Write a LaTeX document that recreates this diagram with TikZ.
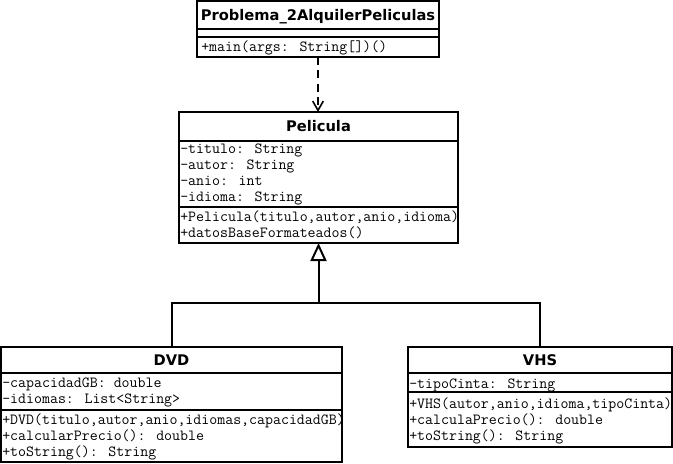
\documentclass[tikz,border=0pt]{standalone}
\usepackage{fontspec}
\newfontfamily\umltitlefont{DejaVu Sans}
\usetikzlibrary{arrows.meta,fit}

\tikzset{
	classbox/.style={draw, line width=1.5pt, inner sep=0pt, outer sep=0pt},
	divider/.style={line width=1.5pt},
	classtitle/.style={inner sep=0pt, text height=8pt, text depth=0pt,
		font=\umltitlefont\bfseries\fontsize{11}{13}\selectfont},
	member/.style={anchor=west, inner sep=0pt, text height=7pt, text depth=0pt,
		font=\ttfamily\fontsize{11.6}{13}\selectfont},
	depends/.style={line width=1.5pt, dash pattern=on 6pt off 4pt,
		-{Straight Barb[length=7pt,width=8pt,line width=1.2pt]}},
	inherits/.style={line width=1.5pt},
	inheritstip/.style={line width=1.5pt,
		-{Triangle[open,length=13.5pt,width=12pt,line width=1.5pt]}},
}

\begin{document}
\begin{tikzpicture}[x=0.75pt, y=-0.75pt]

	% ---- canvas

	\path[use as bounding box, fill=white] (0,0) rectangle (673,463);

	% ---- class boxes

	\node[classbox, fit={(197,1) (439,57)}] (main) {};
	\node[classbox, fit={(179,112) (458,243)}] (pelicula) {};
	\node[classbox, fit={(1,347) (342,462)}] (dvd) {};
	\node[classbox, fit={(408,347) (672,447)}] (vhs) {};

	% ---- compartments

	\draw[divider] (main.west |- 0,29) -- (main.east |- 0,29);
	\draw[divider] (main.west |- 0,37) -- (main.east |- 0,37);

	\draw[divider] (pelicula.west |- 0,141) -- (pelicula.east |- 0,141);
	\draw[divider] (pelicula.west |- 0,207) -- (pelicula.east |- 0,207);

	\draw[divider] (dvd.west |- 0,373) -- (dvd.east |- 0,373);
	\draw[divider] (dvd.west |- 0,410) -- (dvd.east |- 0,410);

	\draw[divider] (vhs.west |- 0,373) -- (vhs.east |- 0,373);
	\draw[divider] (vhs.west |- 0,392) -- (vhs.east |- 0,392);

	% ---- class names

	\node[classtitle] (main-name) at (318,15) {Problema\_2AlquilerPeliculas};
	\node[classtitle] (pelicula-name) at (318.5,126) {Pelicula};
	\node[classtitle] (dvd-name) at (171.5,360) {DVD};
	\node[classtitle] (vhs-name) at (540,360) {VHS};

	% ---- members

	\node[member] (main-m1) at (201,47) {+main(args: String[])()};

	\begin{scope}
		\clip (pelicula.north west) rectangle (pelicula.south east);
		\node[member] (pelicula-a1) at (180,149) {-titulo: String};
		\node[member] (pelicula-a2) at (180,165) {-autor: String};
		\node[member] (pelicula-a3) at (180,181) {-anio: int};
		\node[member] (pelicula-a4) at (180,197) {-idioma: String};
		\node[member] (pelicula-m1) at (180,217) {+Pelicula(titulo,autor,anio,idioma)};
		\node[member] (pelicula-m2) at (180,233) {+datosBaseFormateados()};
	\end{scope}

	\begin{scope}
		\clip (dvd.north west) rectangle (dvd.south east);
		\node[member] (dvd-a1) at (2,383) {-capacidadGB: double};
		\node[member] (dvd-a2) at (2,399) {-idiomas: List<String>};
		\node[member] (dvd-m1) at (2,420) {+DVD(titulo,autor,anio,idiomas,capacidadGB)};
		\node[member] (dvd-m2) at (2,436) {+calcularPrecio(): double};
		\node[member] (dvd-m3) at (2,452) {+toString(): String};
	\end{scope}

	\begin{scope}
		\clip (vhs.north west) rectangle (vhs.south east);
		\node[member] (vhs-a1) at (409,384) {-tipoCinta: String};
		\node[member] (vhs-m1) at (409,404) {+VHS(autor,anio,idioma,tipoCinta)};
		\node[member] (vhs-m2) at (409,420) {+calculaPrecio(): double};
		\node[member] (vhs-m3) at (409,436) {+toString(): String};
	\end{scope}

	% ---- dependency

	\draw[depends] (main.south) -- (main.south |- pelicula.north);

	% ---- generalization

	\coordinate (join) at (pelicula.south |- 0,303);

	\draw[inherits] (dvd.north) |- (join);
	\draw[inherits] (vhs.north) |- (join);
	\draw[inheritstip] (join) -- (pelicula.south);

\end{tikzpicture}
\end{document}
